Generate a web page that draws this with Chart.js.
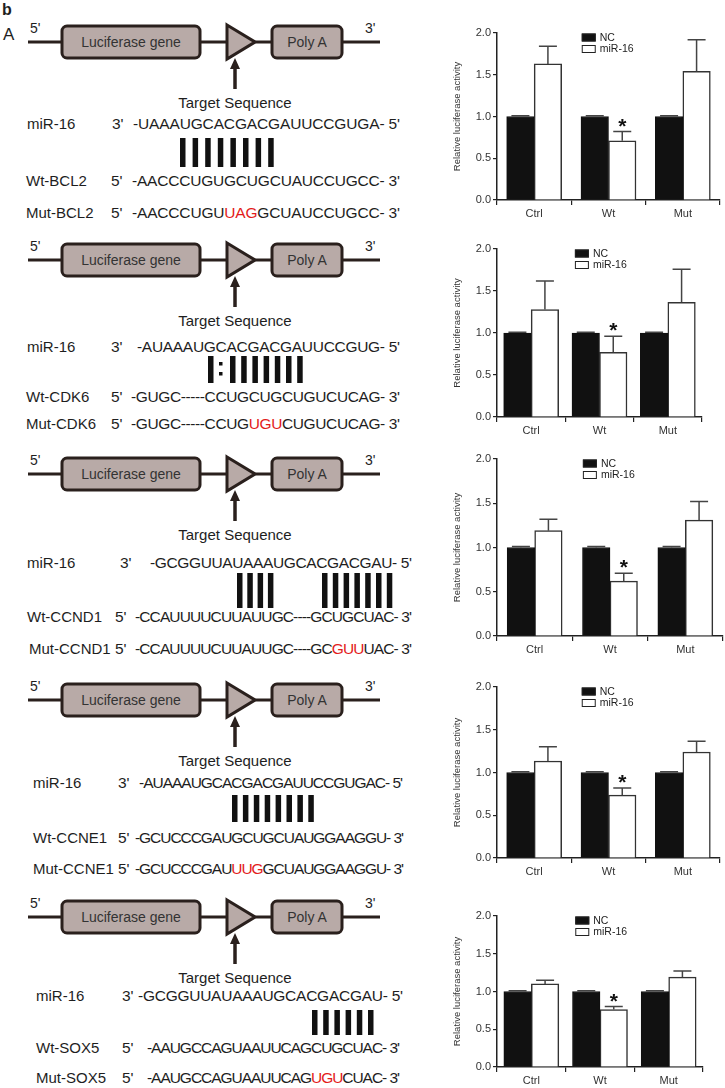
<!DOCTYPE html>
<html>
<head>
<meta charset="utf-8">
<script src="https://cdn.jsdelivr.net/npm/chart.js@4.4.0/dist/chart.umd.min.js"></script>
<style>
  html, body { margin: 0; padding: 0; background: #fff; }
  #page { position: relative; width: 725px; height: 1088px; overflow: hidden; }
  #art { position: absolute; left: 0; top: 0; }
  canvas.plot { position: absolute; left: 440px; }
</style>
</head>
<body>
<div id="page">
  <svg id="art" width="725" height="1088" xmlns="http://www.w3.org/2000/svg"></svg>
  <canvas class="plot" id="c1"></canvas>
  <canvas class="plot" id="c2"></canvas>
  <canvas class="plot" id="c3"></canvas>
  <canvas class="plot" id="c4"></canvas>
  <canvas class="plot" id="c5"></canvas>
</div>
<script>
// ---- data ----
const groups = ["Ctrl", "Wt", "Mut"];
const seriesNames = ["NC", "miR-16"];
const yTicks = [0, 0.5, 1.0, 1.5, 2.0];

const ncMean = [1.0, 1.0, 1.0];
const ncErr = [0.01, 0.01, 0.01];

const bcl2Mean = [1.63, 0.71, 1.54];
const bcl2Err = [0.21, 0.11, 0.38];
const cdk6Mean = [1.28, 0.77, 1.365];
const cdk6Err = [0.34, 0.19, 0.395];
const ccnd1Mean = [1.19, 0.62, 1.31];
const ccnd1Err = [0.13, 0.09, 0.21];
const ccne1Mean = [1.135, 0.735, 1.24];
const ccne1Err = [0.165, 0.085, 0.125];
const sox5Mean = [1.10, 0.76, 1.19];
const sox5Err = [0.05, 0.04, 0.08];

const starFlags = [false, true, false]; // significance marks on miR-16

// ---- left side: constructs and sequences ----
const INK = "#1e1e1e";
const RED = "#e31b1b";
const FONT = "'Liberation Sans', Arial, sans-serif";

const constructY = [42, 260, 474, 700, 917];

const seqRows = [
  { label: "miR-16", lx: 27, y: 129, end: "3'", px: 112, body: ["-UAAAUGCACGACGAUUCCGUGA- 5'"], bx: 133, ex: 400 },
  { label: "Wt-BCL2", lx: 26, y: 186, end: "5'", px: 111, body: ["-AACCCUGUGCUGCUAUCCUGCC- 3'"], bx: 132, ex: 400 },
  { label: "Mut-BCL2", lx: 26, y: 218, end: "5'", px: 111, body: ["-AACCCUGU", "UAG", "GCUAUCCUGCC- 3'"], bx: 132, ex: 400 },

  { label: "miR-16", lx: 27, y: 352, end: "3'", px: 111, body: ["-AUAAAUGCACGACGAUUCCGUG- 5'"], bx: 137, ex: 400 },
  { label: "Wt-CDK6", lx: 26, y: 402, end: "5'", px: 111, body: ["-GUGC-----CCUGCUGCUGUCUCAG- 3'"], bx: 131, ex: 400 },
  { label: "Mut-CDK6", lx: 26, y: 429, end: "5'", px: 111, body: ["-GUGC-----CCUG", "UGU", "CUGUCUCAG- 3'"], bx: 131, ex: 400 },

  { label: "miR-16", lx: 27, y: 568, end: "3'", px: 120, body: ["-GCGGUUAUAAAUGCACGACGAU- 5'"], bx: 150, ex: 412 },
  { label: "Wt-CCND1", lx: 27, y: 622, end: "5'", px: 115, body: ["-CCAUUUUCUUAUUGC----GCUGCUAC- 3'"], bx: 135, ex: 412 },
  { label: "Mut-CCND1", lx: 29, y: 654, end: "5'", px: 115, body: ["-CCAUUUUCUUAUUGC----GC", "GUU", "UAC- 3'"], bx: 135, ex: 412 },

  { label: "miR-16", lx: 33, y: 788, end: "3'", px: 118, body: ["-AUAAAUGCACGACGAUUCCGUGAC- 5'"], bx: 139, ex: 403 },
  { label: "Wt-CCNE1", lx: 33, y: 843, end: "5'", px: 118, body: ["-GCUCCCGAUGCUGCUAUGGAAGGU- 3'"], bx: 135, ex: 404 },
  { label: "Mut-CCNE1", lx: 33, y: 874, end: "5'", px: 118, body: ["-GCUCCCGAU", "UUG", "GCUAUGGAAGGU- 3'"], bx: 135, ex: 404 },

  { label: "miR-16", lx: 36, y: 1001, end: "3'", px: 122, body: ["-GCGGUUAUAAAUGCACGACGAU- 5'"], bx: 138, ex: 403 },
  { label: "Wt-SOX5", lx: 36, y: 1053, end: "5'", px: 122, body: ["-AAUGCCAGUAAUUCAGCUGCUAC- 3'"], bx: 147, ex: 400 },
  { label: "Mut-SOX5", lx: 36, y: 1083, end: "5'", px: 122, body: ["-AAUGCCAGUAAUUCAG", "UGU", "CUAC- 3'"], bx: 147, ex: 400 }
];

const pairMarks = [
  { y0: 138, y1: 167, groups: [{ x: 180, n: 8, step: 12.6 }] },
  { y0: 356, y1: 383, groups: [{ x: 208, n: 1, step: 0 }, { x: 230, n: 7, step: 11.2 }], colon: 219 },
  { y0: 573, y1: 608, groups: [{ x: 237, n: 4, step: 10.3 }, { x: 322, n: 7, step: 10.8 }] },
  { y0: 795, y1: 822, groups: [{ x: 232, n: 8, step: 10.9 }] },
  { y0: 1010, y1: 1035, groups: [{ x: 312, n: 6, step: 11.2 }] }
];

function esc(s) { return s.replace(/&/g, "&amp;").replace(/</g, "&lt;"); }

let svg = "";
svg += `<text x="2" y="15" font-family="${FONT}" font-size="16" font-weight="bold" fill="${INK}">b</text>`;
svg += `<text x="3" y="40" font-family="${FONT}" font-size="17" fill="${INK}">A</text>`;

const DARK = "#2a201d", BOX = "#b8aaa7";
constructY.forEach(y => {
  svg += `<line x1="28" y1="${y}" x2="380" y2="${y}" stroke="${DARK}" stroke-width="3"/>`;
  svg += `<rect x="62" y="${y - 16}" width="138" height="32" rx="5" fill="${BOX}" stroke="${DARK}" stroke-width="3"/>`;
  svg += `<text x="131" y="${y + 5}" text-anchor="middle" font-family="${FONT}" font-size="14" fill="#333">Luciferase gene</text>`;
  svg += `<polygon points="227,${y - 17} 255,${y} 227,${y + 17}" fill="${BOX}" stroke="${DARK}" stroke-width="3" stroke-linejoin="miter"/>`;
  svg += `<rect x="272" y="${y - 16}" width="70" height="32" rx="5" fill="${BOX}" stroke="${DARK}" stroke-width="3"/>`;
  svg += `<text x="307" y="${y + 5}" text-anchor="middle" font-family="${FONT}" font-size="14" fill="#333">Poly A</text>`;
  svg += `<line x1="235" y1="${y + 24}" x2="235" y2="${y + 47}" stroke="${DARK}" stroke-width="3.5"/>`;
  svg += `<polygon points="235,${y + 16} 230,${y + 27} 240,${y + 27}" fill="${DARK}"/>`;
  svg += `<text x="235" y="${y + 66}" text-anchor="middle" font-family="${FONT}" font-size="15" fill="${INK}">Target Sequence</text>`;
  svg += `<text x="30" y="${y - 9}" font-family="${FONT}" font-size="14" fill="${INK}">5'</text>`;
  svg += `<text x="365" y="${y - 9}" font-family="${FONT}" font-size="14" fill="${INK}">3'</text>`;
});

seqRows.forEach(r => {
  svg += `<text x="${r.lx}" y="${r.y}" font-family="${FONT}" font-size="15" fill="${INK}">${esc(r.label)}</text>`;
  svg += `<text x="${r.px}" y="${r.y}" font-family="${FONT}" font-size="15.5" fill="${INK}">${r.end}</text>`;
  const spans = r.body.map((s, i) => i % 2 ? `<tspan fill="${RED}">${esc(s)}</tspan>` : esc(s)).join("");
  svg += `<text x="${r.bx}" y="${r.y}" textLength="${r.ex - r.bx}" lengthAdjust="spacing" font-family="${FONT}" font-size="15.5" fill="${INK}">${spans}</text>`;
});

pairMarks.forEach(p => {
  p.groups.forEach(g => {
    for (let i = 0; i < g.n; i++) {
      svg += `<rect x="${g.x + i * g.step}" y="${p.y0}" width="5.5" height="${p.y1 - p.y0}" fill="#111"/>`;
    }
  });
  if (p.colon) {
    svg += `<rect x="${p.colon}" y="${p.y0 + 6}" width="3.5" height="3.5" fill="#111"/>`;
    svg += `<rect x="${p.colon}" y="${p.y0 + 16}" width="3.5" height="3.5" fill="#111"/>`;
  }
});
document.getElementById("art").innerHTML = svg;

// ---- right side: bar charts ----
Chart.defaults.font.family = FONT;
Chart.defaults.color = "#333";
Chart.defaults.animation = false;

const errorBars = {
  id: "errorBars",
  afterDatasetsDraw(chart) {
    const { ctx, scales: { y } } = chart;
    chart.data.datasets.forEach((ds, i) => {
      const meta = chart.getDatasetMeta(i);
      meta.data.forEach((bar, j) => {
        const top = y.getPixelForValue(ds.data[j] + ds.errors[j]);
        ctx.save();
        ctx.strokeStyle = "#444";
        ctx.lineWidth = 1.5;
        ctx.beginPath();
        ctx.moveTo(bar.x, bar.y);
        ctx.lineTo(bar.x, top);
        ctx.moveTo(bar.x - 9, top);
        ctx.lineTo(bar.x + 9, top);
        ctx.stroke();
        if (ds.stars && ds.stars[j]) {
          ctx.fillStyle = "#111";
          ctx.font = "bold 21px " + FONT;
          ctx.textAlign = "center";
          ctx.textBaseline = "alphabetic";
          ctx.fillText("*", bar.x, top + 1);
        }
        ctx.restore();
      });
    });
  }
};

const boxLegend = {
  id: "boxLegend",
  afterDraw(chart) {
    const { ctx, chartArea: a } = chart;
    const x = a.left + (a.right - a.left) * 0.38;
    chart.data.datasets.forEach((ds, i) => {
      const yy = a.top + 0.5 + i * 11.5;
      ctx.save();
      ctx.fillStyle = ds.backgroundColor;
      ctx.fillRect(x, yy, 14, 8);
      ctx.strokeStyle = "#222";
      ctx.lineWidth = 1;
      ctx.strokeRect(x + 0.5, yy + 0.5, 13, 7);
      ctx.fillStyle = "#222";
      ctx.font = "10.5px " + FONT;
      ctx.textBaseline = "middle";
      ctx.fillText(ds.label, x + 18, yy + 4.5);
      ctx.restore();
    });
  }
};

const frames = [
  { id: "c1", top: 33, bottom: 200, right: 720 },
  { id: "c2", top: 249, bottom: 417, right: 702 },
  { id: "c3", top: 459, bottom: 636, right: 723 },
  { id: "c4", top: 687, bottom: 858, right: 720 },
  { id: "c5", top: 916, bottom: 1067, right: 703 }
];
const panels = [
  [bcl2Mean, bcl2Err],
  [cdk6Mean, cdk6Err],
  [ccnd1Mean, ccnd1Err],
  [ccne1Mean, ccne1Err],
  [sox5Mean, sox5Err]
];

frames.forEach((f, k) => {
  const cv = document.getElementById(f.id);
  const padTop = 10, xAxisH = 25;
  cv.width = 285;
  cv.height = f.bottom - f.top + padTop + xAxisH;
  cv.style.top = (f.top - padTop) + "px";

  new Chart(cv, {
    type: "bar",
    data: {
      labels: groups,
      datasets: [
        {
          label: seriesNames[0],
          data: ncMean,
          errors: ncErr,
          backgroundColor: "#111",
          borderColor: "#111",
          borderWidth: 1
        },
        {
          label: seriesNames[1],
          data: panels[k][0],
          errors: panels[k][1],
          stars: starFlags,
          backgroundColor: "#fff",
          borderColor: "#333",
          borderWidth: 1.5
        }
      ]
    },
    options: {
      responsive: false,
      barThickness: 27.5,
      layout: { padding: { top: padTop, right: 725 - f.right, left: 0, bottom: 0 } },
      plugins: { legend: { display: false }, tooltip: { enabled: false } },
      scales: {
        x: {
          afterFit: s => { s.height = xAxisH; },
          grid: { drawOnChartArea: false, tickLength: 5, color: "#222", lineWidth: 1.2, offset: true },
          border: { color: "#222", width: 1.5 },
          ticks: { padding: 2, font: { size: 11 }, color: "#333" }
        },
        y: {
          min: 0,
          max: 2,
          afterFit: s => { s.width = 57; },
          afterBuildTicks: s => { s.ticks = yTicks.map(v => ({ value: v })); },
          ticks: { callback: v => v.toFixed(1), font: { size: 11 }, color: "#333", padding: 2 },
          grid: { drawOnChartArea: false, tickLength: 4, color: "#222", lineWidth: 1.2 },
          border: { color: "#222", width: 1.5 },
          title: {
            display: true,
            text: "Relative luciferase activity",
            font: { size: 9.5 },
            color: "#333",
            padding: { top: 12, bottom: 0 }
          }
        }
      }
    },
    plugins: [errorBars, boxLegend]
  });
});
</script>
</body>
</html>
